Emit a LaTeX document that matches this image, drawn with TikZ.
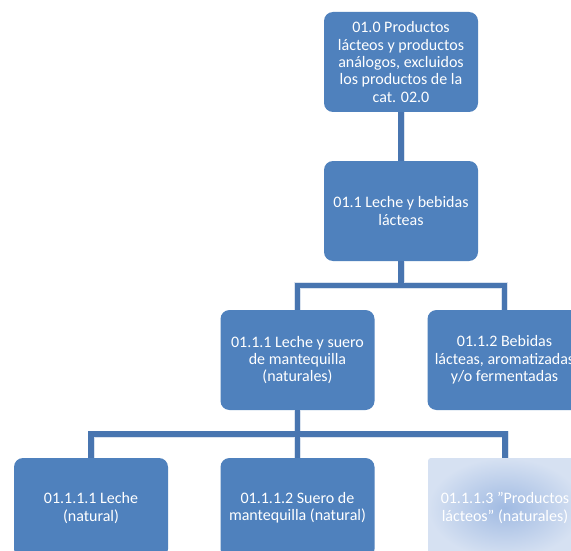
\documentclass[tikz,border=0pt]{standalone}
\usepackage{fontspec}
\setmainfont{Carlito}
\usetikzlibrary{calc}
\definecolor{boxblue}{RGB}{79,129,189}
\definecolor{lineblue}{RGB}{72,117,176}
\definecolor{fadeout}{RGB}{214,225,242}
\definecolor{fadein}{RGB}{160,186,226}
\tikzset{
  x=1pt, y=-1pt,
  box/.style={draw=none, fill=boxblue, rounded corners=9pt, minimum width=154pt, minimum height=100pt,
    align=center, text=white, font=\fontsize{16}{17.4}\selectfont, inner sep=0pt},
  fadebox/.style={box, fill=none, inner color=fadein, outer color=fadeout, rounded corners=3pt},
  conn/.style={draw=lineblue, line width=5.5pt},
  connedge/.style={draw=white!80!lineblue, line width=7pt}
}
\begin{document}
\begin{tikzpicture}
\useasboundingbox (0,0) rectangle (571,551);
\clip (0,0) rectangle (571,551);
\fill[white] (0,0) rectangle (571,551);
\node[box] (top) at (401,62) {01.0 Productos\\lácteos y productos\\análogos, excluidos\\los productos de la\\cat. 02.0};
\node[box] (l1) at (401,211) {01.1 Leche y bebidas\\lácteas};
\node[box] (l11) at (297.5,360) {01.1.1 Leche y suero\\de mantequilla\\(naturales)};
\node[box] (l12) at (504.5,360) {01.1.2 Bebidas\\lácteas, aromatizadas\\y/o fermentadas};
\node[box] (l111) at (91,508) {01.1.1.1 Leche\\(natural)};
\node[box] (l112) at (297.5,508) {01.1.1.2 Suero de\\mantequilla (natural)};
\node[fadebox] (l113) at (505,508) {01.1.1.3 "Productos\\lácteos" (naturales)};
\coordinate (f1) at ($(l1.south)!0.5!(l11.north)$);
\coordinate (f2) at ($(l11.south)!0.5!(l111.north)$);
\foreach \s in {connedge,conn}{
  \draw[\s] (top.south) -- (l1.north);
  \draw[\s] (l1.south) -- (l1.south |- f1);
  \draw[\s] (l11.north) |- (f1) -| (l12.north);
  \draw[\s] (l11.south) -- (l112.north);
  \draw[\s] (l111.north) |- (f2) -| (l113.north);
}
\end{tikzpicture}
\end{document}
